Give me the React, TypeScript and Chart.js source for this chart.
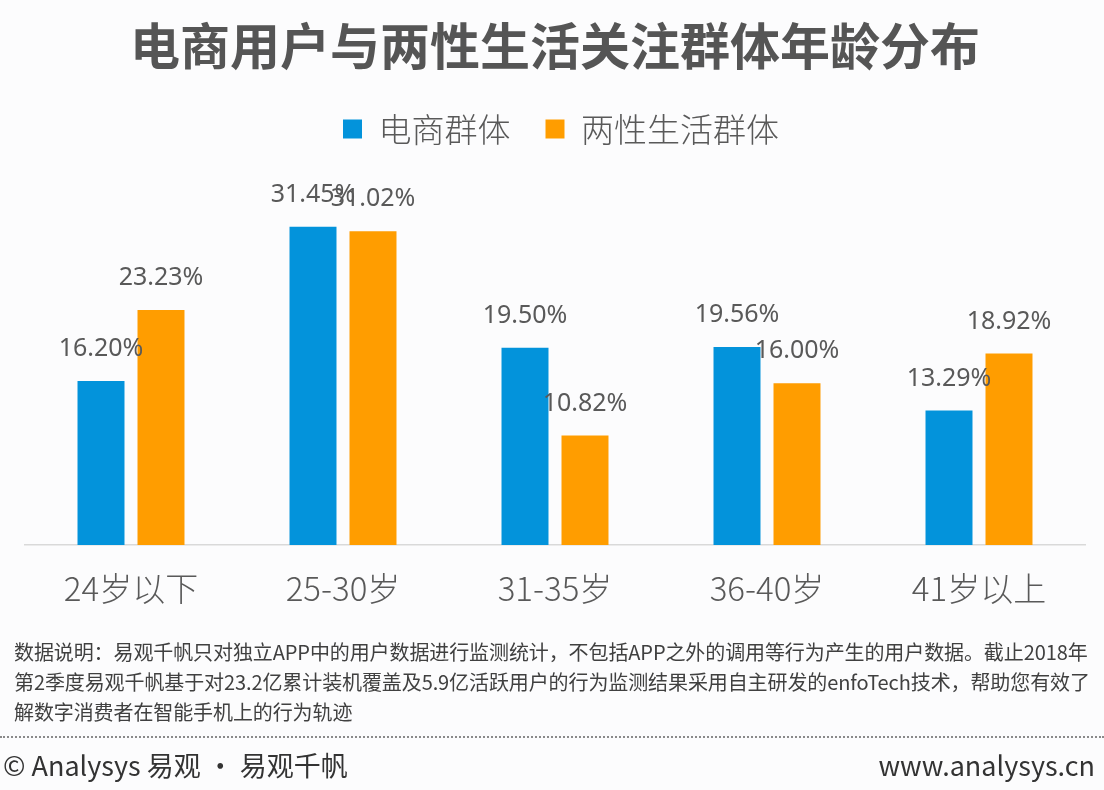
import React, { useEffect, useRef } from "react";
import { Chart, registerables } from "chart.js";

Chart.register(...registerables);

const categories = ["24岁以下", "25-30岁", "31-35岁", "36-40岁", "41岁以上"];
const ecommerceValues = [16.2, 31.45, 19.5, 19.56, 13.29];
const sexLifeValues = [23.23, 31.02, 10.82, 16.0, 18.92];
const seriesNames = ["电商群体", "两性生活群体"];
const titleText = "电商用户与两性生活关注群体年龄分布";
const noteLines = [
  "数据说明：易观千帆只对独立APP中的用户数据进行监测统计，不包括APP之外的调用等行为产生的用户数据。截止2018年",
  "第2季度易观千帆基于对23.2亿累计装机覆盖及5.9亿活跃用户的行为监测结果采用自主研发的enfoTech技术，帮助您有效了",
  "解数字消费者在智能手机上的行为轨迹",
];
const footerLeft = "© Analysys 易观 · 易观千帆";
const footerRight = "www.analysys.cn";

const BLUE = "#0393DB";
const ORANGE = "#FF9D00";
const TEXT = "#595959";
const CJK = '"Noto Sans CJK SC", "Noto Sans", sans-serif';

const valueLabelPlugin = {
  id: "valueLabels",
  afterDatasetsDraw(chart: any) {
    const ctx = chart.ctx;
    ctx.save();
    ctx.font = '25px "Noto Sans", "Open Sans", sans-serif';
    ctx.fillStyle = TEXT;
    ctx.textAlign = "center";
    ctx.textBaseline = "alphabetic";
    chart.data.datasets.forEach((ds: any, i: number) => {
      const meta = chart.getDatasetMeta(i);
      meta.data.forEach((bar: any, j: number) => {
        const v = ds.data[j] as number;
        ctx.fillText(v.toFixed(2) + "%", bar.x, bar.y - 25);
      });
    });
    ctx.restore();
  },
};

const legendShiftPlugin = {
  id: "legendShift",
  afterLayout(chart: any) {
    const l = chart.legend;
    if (l) {
      l.left += 6;
      l.right += 6;
    }
  },
};

export default function App() {
  const canvasRef = useRef<HTMLCanvasElement | null>(null);

  useEffect(() => {
    document.body.style.margin = "0";
    const canvas = canvasRef.current;
    if (!canvas) return;
    const chart = new Chart(canvas, {
      type: "bar",
      data: {
        labels: categories,
        datasets: [
          {
            label: seriesNames[0],
            data: ecommerceValues,
            backgroundColor: BLUE,
            borderWidth: 0,
            categoryPercentage: 0.566,
            barPercentage: 0.783,
          },
          {
            label: seriesNames[1],
            data: sexLifeValues,
            backgroundColor: ORANGE,
            borderWidth: 0,
            categoryPercentage: 0.566,
            barPercentage: 0.783,
          },
        ],
      },
      options: {
        responsive: false,
        animation: false,
        devicePixelRatio: 1,
        layout: { padding: { left: 25, right: 19, top: 0, bottom: 159 } },
        plugins: {
          title: {
            display: true,
            text: titleText,
            color: "#555555",
            font: { family: CJK, size: 50, weight: "bold", lineHeight: 1 },
            padding: { top: 21, bottom: 6.5 },
          },
          legend: {
            display: true,
            position: "top",
            labels: {
              color: TEXT,
              boxWidth: 19,
              boxHeight: 19,
              padding: 35,
              font: { family: CJK, size: 33, weight: "300", lineHeight: 1 },
            },
          },
          tooltip: { enabled: false },
        },
        scales: {
          x: {
            grid: { display: false, drawTicks: false },
            border: { display: true, color: "#D9D9D9", width: 1.5 },
            ticks: {
              color: TEXT,
              padding: 26.5,
              font: { family: CJK, size: 33, weight: "300", lineHeight: 1 },
            },
          },
          y: {
            display: false,
            min: 0,
            max: 38.5,
          },
        },
      },
      plugins: [valueLabelPlugin, legendShiftPlugin],
    });
    return () => chart.destroy();
  }, []);

  return (
    <div
      style={{
        position: "absolute",
        left: 0,
        top: 0,
        width: 1104,
        height: 790,
        overflow: "hidden",
        background: "#FCFCFD",
      }}
    >
      <canvas
        ref={canvasRef}
        width={1104}
        height={790}
        style={{ position: "absolute", left: 0, top: 0, width: 1104, height: 790 }}
      />
      <div
        style={{
          position: "absolute",
          left: 14,
          top: 637,
          fontFamily: CJK,
          fontSize: 20,
          lineHeight: "30px",
          letterSpacing: "-0.1px",
          color: "#404040",
          whiteSpace: "nowrap",
        }}
      >
        {noteLines.map((l, i) => (
          <div key={i}>{l}</div>
        ))}
      </div>
      <div
        style={{
          position: "absolute",
          left: 0,
          top: 736,
          width: 1104,
          borderTop: "2px dotted #8A8A8A",
        }}
      />
      <div
        style={{
          position: "absolute",
          left: 3,
          top: 747,
          fontFamily: CJK,
          fontSize: 27,
          lineHeight: "36px",
          color: "#333333",
          whiteSpace: "nowrap",
        }}
      >
        {footerLeft}
      </div>
      <div
        style={{
          position: "absolute",
          right: 9,
          top: 747,
          fontFamily: CJK,
          fontSize: 27,
          lineHeight: "36px",
          color: "#333333",
          whiteSpace: "nowrap",
        }}
      >
        {footerRight}
      </div>
    </div>
  );
}
